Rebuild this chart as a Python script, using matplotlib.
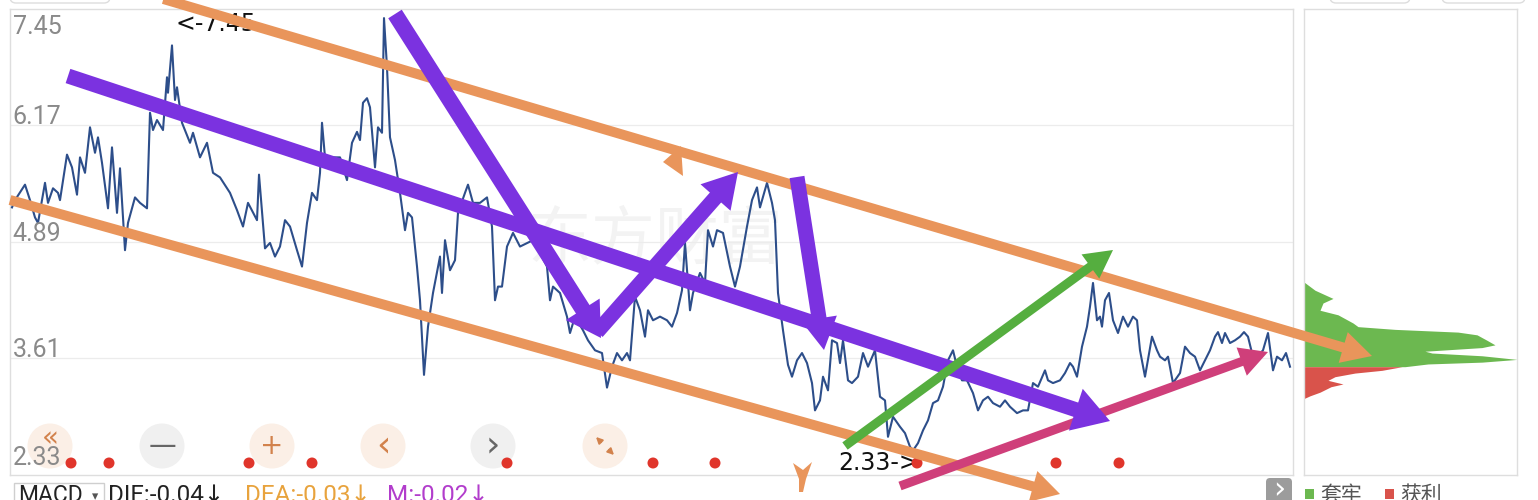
import matplotlib
matplotlib.use("Agg")
import matplotlib.pyplot as plt
import matplotlib.transforms as mtransforms
from matplotlib.patches import Polygon, Circle, FancyBboxPatch, Rectangle
import numpy as np

# ---------------- data ----------------
days = [2, 5, 15, 20, 25, 28, 35, 38, 43, 48, 50, 57, 62, 67, 70, 75, 80, 85, 88, 92,
        98, 102, 107, 110, 115, 118, 125, 130, 137, 140, 143, 147, 153, 157, 158, 162, 165, 167, 172, 180,
        183, 190, 197, 203, 210, 220, 227, 233, 238, 247, 249, 255,
        260, 265, 270, 275, 280, 287, 292, 297, 302, 307, 310, 312, 315, 323, 330, 337, 342, 347, 350, 353,
        357, 360, 365, 368, 372, 374, 377, 380, 385, 390, 395, 398, 402, 407, 410, 414, 418, 423, 430, 432,
        435, 440, 445, 448, 455, 458, 463, 470, 477, 482, 485, 488, 492, 497, 503, 510,
        523, 530, 537, 540, 543, 550, 557, 560, 565, 573, 578, 585, 592, 597, 602, 607, 612, 617, 620, 625,
        630, 635, 638, 643, 650, 657, 662, 667, 672, 675, 680, 683, 690, 695, 698, 703, 707, 713, 720, 725,
        730, 737, 742, 747, 750, 757, 762, 765, 768, 773, 778,
        782, 787, 792, 797, 802, 805, 810, 813, 818, 822, 827, 830, 833, 838, 842, 848, 853, 858, 865, 870,
        875, 878, 883, 890, 895, 900, 903, 908, 913, 918, 923, 928, 933, 938, 943, 947, 952, 957, 963, 968,
        973, 978, 983, 990, 995, 1000, 1007, 1013, 1018, 1023, 1028,
        1035, 1038, 1043, 1050, 1055, 1060, 1063, 1067, 1072, 1077, 1080, 1083, 1087, 1090, 1092, 1095,
        1099, 1103, 1108, 1113, 1118, 1123, 1127, 1130, 1135, 1142, 1147, 1150, 1155, 1158, 1163, 1170,
        1175, 1180, 1185, 1190, 1195, 1200, 1205, 1208, 1212, 1215, 1220, 1225, 1230, 1234, 1238, 1242,
        1247, 1253, 1258, 1263, 1267, 1272, 1276, 1280]

close = [5.27, 5.35, 5.52, 5.35, 5.16, 5.10, 5.54, 5.32, 5.48, 5.43, 5.35, 5.85, 5.71, 5.41, 5.82, 5.65, 6.15, 5.87, 6.04, 5.76,
         5.26, 5.93, 5.21, 5.70, 4.80, 5.10, 5.38, 5.32, 5.26, 6.31, 6.12, 6.23, 6.12, 6.70, 6.53, 7.05, 6.45, 6.59, 6.20, 5.98,
         6.09, 5.82, 5.98, 5.65, 5.60, 5.43, 5.24, 5.06, 5.32, 5.13, 5.63, 4.82,
         4.88, 4.73, 4.84, 5.13, 5.06, 4.80, 4.62, 5.10, 5.43, 5.35, 5.65, 6.20, 5.82, 5.82, 5.82, 5.57, 5.98, 6.10, 6.01, 6.42,
         6.47, 6.37, 5.71, 6.15, 6.09, 7.35, 6.81, 6.04, 5.79, 5.43, 5.02, 5.21, 5.16, 4.62, 4.25, 3.43, 3.96, 4.33, 4.73, 4.33,
         4.91, 4.58, 4.69, 5.21, 5.43, 5.52, 5.32, 5.32, 5.38, 5.06, 4.25, 4.40, 4.40, 4.84, 4.99, 4.84,
         4.91, 4.77, 4.62, 4.25, 4.40, 4.33, 4.07, 3.89, 4.07, 3.92, 3.81, 3.70, 3.67, 3.29, 3.52, 3.67, 3.59, 3.67, 3.59, 4.29,
         4.14, 3.85, 4.14, 4.03, 4.07, 4.03, 3.96, 4.11, 4.36, 4.88, 4.14, 4.33, 4.55, 4.44, 5.02, 4.84, 5.02, 4.99, 4.62, 4.40,
         4.62, 5.06, 5.35, 5.49, 5.27, 5.54, 5.32, 5.13, 4.33, 3.92, 3.54,
         3.41, 3.59, 3.67, 3.56, 3.34, 3.04, 3.15, 3.41, 3.26, 3.81, 3.78, 3.56, 3.81, 3.37, 3.34, 3.41, 3.67, 3.52, 3.70, 3.19,
         3.15, 2.75, 2.97, 2.86, 2.79, 2.64, 2.60, 2.68, 2.82, 2.93, 3.12, 3.15, 3.30, 3.59, 3.70, 3.52, 3.37, 3.37, 3.23, 3.04,
         3.15, 3.19, 3.12, 3.08, 3.15, 3.08, 3.01, 3.04, 3.04, 3.34, 3.30,
         3.48, 3.37, 3.34, 3.37, 3.45, 3.56, 3.52, 3.41, 3.74, 3.96, 4.18, 4.44, 4.03, 4.07, 3.96, 4.25,
         4.33, 4.03, 3.89, 4.07, 3.96, 4.07, 4.03, 3.70, 3.41, 3.85, 3.70, 3.63, 3.59, 3.63, 3.34, 3.45,
         3.74, 3.67, 3.63, 3.48, 3.59, 3.70, 3.85, 3.90, 3.78, 3.89, 3.78, 3.81, 3.85, 3.90, 3.85, 3.67,
         3.63, 3.70, 3.89, 3.48, 3.63, 3.59, 3.67, 3.52]

ytick_values = [7.45, 6.17, 4.89, 3.61, 2.33]
ytick_labels = ["7.45", "6.17", "4.89", "3.61", "2.33"]

# chip distribution (套牢 = trapped above current price, 获利 = profit below)
chip_price_trapped = [4.45, 4.36, 4.27, 4.22, 4.14, 4.09, 4.03, 4.00, 3.96, 3.93, 3.90, 3.87, 3.81, 3.76,
                      3.73, 3.69, 3.67, 3.64, 3.60, 3.57, 3.55, 3.52]
chip_trapped = [0, 11, 29, 19, 16, 34, 44, 49, 54, 91, 154, 173, 183, 191, 178, 121, 128, 178, 213, 178, 124, 101]
chip_price_profit = [3.52, 3.48, 3.45, 3.41, 3.37, 3.33, 3.30, 3.24, 3.20, 3.17]
chip_profit = [98, 78, 51, 31, 24, 39, 27, 16, 6, 0]

high_label = "<-7.45"
low_label = "2.33->"
legend_labels = ["套牢", "获利"]
macd_texts = ["DIF:-0.04↓", "DEA:-0.03↓", "M:-0.02↓"]

# ---------------- figure ----------------
W, H = 1538, 500
fig = plt.figure(figsize=(W / 100, H / 100), dpi=100)
fig.patch.set_facecolor("white")
CJK = ["Noto Sans CJK SC", "DejaVu Sans"]
NUM = ["Roboto", "DejaVu Sans"]

# background layer (screen buttons) below the chart
bg = fig.add_axes([0, 0, 1, 1], zorder=0)
bg.set_xlim(0, W)
bg.set_ylim(H, 0)
bg.axis("off")

peach, grey = "#FBEFE6", "#F0F0F0"
icon_o, icon_g = "#D2824C", "#666666"
buttons = [(50, peach, "«", icon_o), (162, grey, "—", icon_g), (272, peach, "+", icon_o),
           (383, peach, "‹", icon_o), (493, grey, "›", icon_g), (605, peach, "", icon_o)]
for bx_, fc, g, gc in buttons:
    bg.add_patch(Circle((bx_, 446), 22.5, fc=fc, ec="none", zorder=1))
    if g:
        fs = 26 if g in "‹›" else 20
        yy = 438 if g == "«" else 446
        bg.text(bx_, yy, g, ha="center", va="center", fontsize=fs, color=gc, zorder=2)
bg.annotate("", xy=(594, 435), xytext=(603, 444),
            arrowprops=dict(arrowstyle="-|>", color=icon_o, lw=1.4, mutation_scale=9), zorder=2)
bg.annotate("", xy=(616, 457), xytext=(607, 448),
            arrowprops=dict(arrowstyle="-|>", color=icon_o, lw=1.4, mutation_scale=9), zorder=2)

# watermark
bg.text(655, 240, "东方财富", ha="center", va="center",
        fontsize=46, color="#f3f3f3", family=CJK, zorder=1)

ax = fig.add_axes([10 / W, 1 - 475 / H, 1283 / W, 466 / H], zorder=1)
ax.patch.set_alpha(0)
ax.plot(days, close, color="#2D4E8A", lw=1.5, zorder=3)
ax.set_xlim(0, 1283)
ax.set_ylim(ytick_values[-1], ytick_values[0])
ax.set_xticks([])
ax.set_yticks(ytick_values[1:-1])
ax.tick_params(left=False, labelleft=False)
ax.grid(axis="y", color="#ececec", lw=0.9)
for s in ax.spines.values():
    s.set_color("#dedede")
    s.set_linewidth(1.0)

for v, lab in zip(ytick_values, ytick_labels):
    if v == ytick_values[0]:
        va, dy = "top", -4.5
    elif v == ytick_values[-1]:
        va, dy = "baseline", 7
    else:
        va, dy = "baseline", 1
    tr = mtransforms.offset_copy(ax.get_yaxis_transform(), fig=fig, x=2.0, y=dy, units="points")
    ax.text(0, v, lab, transform=tr, ha="left", va=va, fontsize=18, color="#8a8a8a",
            family=NUM, zorder=4)

# right chip-distribution panel
rax = fig.add_axes([1304 / W, 1 - 475 / H, 213 / W, 466 / H], zorder=1)
rax.fill_betweenx(chip_price_trapped, 0, chip_trapped, color="#6CB850", lw=0)
rax.fill_betweenx(chip_price_profit, 0, chip_profit, color="#D9534B", lw=0)
rax.set_xlim(0, 213)
rax.set_ylim(ytick_values[-1], ytick_values[0])
rax.set_xticks([])
rax.set_yticks([])
for s in rax.spines.values():
    s.set_color("#dedede")
    s.set_linewidth(1.0)

# ---------------- overlay (hand drawn arrows, labels) ----------------
ov = fig.add_axes([0, 0, 1, 1], zorder=10)
ov.set_xlim(0, W)
ov.set_ylim(H, 0)
ov.axis("off")
ov.patch.set_alpha(0)


def arrow(p0, p1, color, width, head_len, head_w, z):
    x0, y0 = p0
    x1, y1 = p1
    dx, dy = x1 - x0, y1 - y0
    L = np.hypot(dx, dy)
    ux, uy = dx / L, dy / L
    bx, by = x1 - ux * head_len, y1 - uy * head_len
    px, py = -uy, ux
    ov.plot([x0, bx + ux * 2], [y0, by + uy * 2], color=color, lw=width * 0.72,
            solid_capstyle="butt", zorder=z)
    tri = [(x1, y1), (bx + px * head_w / 2, by + py * head_w / 2), (bx - px * head_w / 2, by - py * head_w / 2)]
    ov.add_patch(Polygon(tri, closed=True, color=color, lw=0, zorder=z))


ORANGE = "#E9955B"
PURPLE = "#7B32E0"
GREEN = "#55AE3F"
MAGENTA = "#CF3F7A"

ov.text(176, 24, high_label, fontsize=17, color="#111111", ha="left", va="center", zorder=1)
ov.text(838, 463, low_label, fontsize=17, color="#111111", ha="left", va="center", zorder=1)

# red dots
for dx_ in [71, 109, 249, 312, 507, 653, 715, 917, 1056, 1119]:
    ov.add_patch(Circle((dx_, 463), 5.5, fc="#E0352B", ec="none", zorder=2))

# orange channel
arrow((160, -2), (1372, 356), ORANGE, 10, 30, 32, 3)
arrow((10, 200), (1060, 494), ORANGE, 10, 28, 32, 3)
ov.add_patch(Polygon([(663, 162), (681, 146), (683, 176)], closed=True, color=ORANGE, lw=0, zorder=3))
ov.add_patch(Polygon([(793, 463), (803, 470), (812, 462), (806, 479), (803, 492), (799, 492), (799, 479)],
                     closed=True, color=ORANGE, lw=0, zorder=3))

# magenta
arrow((900, 486), (1268, 352), MAGENTA, 9, 28, 30, 4)
# purple
arrow((68, 76), (1110, 421), PURPLE, 15, 36, 44, 5)
arrow((395, 14), (601, 338), PURPLE, 16, 34, 40, 5)
arrow((597, 332), (738, 172), PURPLE, 15, 34, 40, 5)
arrow((797, 177), (824, 350), PURPLE, 15, 32, 36, 5)
# green
arrow((845, 446), (1113, 250), GREEN, 9, 28, 30, 6)

# top partial buttons
for (x0, w) in [(10, 100), (1330, 80), (1442, 83)]:
    ov.add_patch(FancyBboxPatch((x0, -30), w, 33, boxstyle="round,pad=0,rounding_size=6",
                                fc="white", ec="#dddddd", lw=1, zorder=1))

# gray ">" button
ov.add_patch(FancyBboxPatch((1266, 478), 26, 30, boxstyle="round,pad=0,rounding_size=4",
                            fc="#9C9C9C", ec="none", zorder=1))
ov.text(1279, 490, "›", ha="center", va="center", fontsize=22, color="white", zorder=2)

# MACD line at the bottom (cut by the screenshot)
ov.add_patch(Rectangle((14, 483), 90, 30, fc="white", ec="#cfcfcf", lw=1, zorder=1))
ov.text(18, 484, "MACD", ha="left", va="top", fontsize=16.5, color="#222222", family=NUM, zorder=2)
ov.text(92, 490, "▾", ha="left", va="top", fontsize=9, color="#555555", zorder=2)
ov.text(108, 484, macd_texts[0], ha="left", va="top", fontsize=17.5, color="#222222", family=NUM, zorder=2)
ov.text(245, 484, macd_texts[1], ha="left", va="top", fontsize=17.5, color="#E8A33D", family=NUM, zorder=2)
ov.text(387, 484, macd_texts[2], ha="left", va="top", fontsize=17.5, color="#B23DCC", family=NUM, zorder=2)

# legend of chip panel
ov.add_patch(Rectangle((1305, 489), 9, 10, fc="#6CB850", ec="none", zorder=1))
ov.text(1320, 484, legend_labels[0], ha="left", va="top", fontsize=15, color="#555555", family=CJK, zorder=2)
ov.add_patch(Rectangle((1385, 489), 9, 10, fc="#D9534B", ec="none", zorder=1))
ov.text(1400, 484, legend_labels[1], ha="left", va="top", fontsize=15, color="#555555", family=CJK, zorder=2)

fig.savefig("out.png", dpi=100, facecolor="white")
